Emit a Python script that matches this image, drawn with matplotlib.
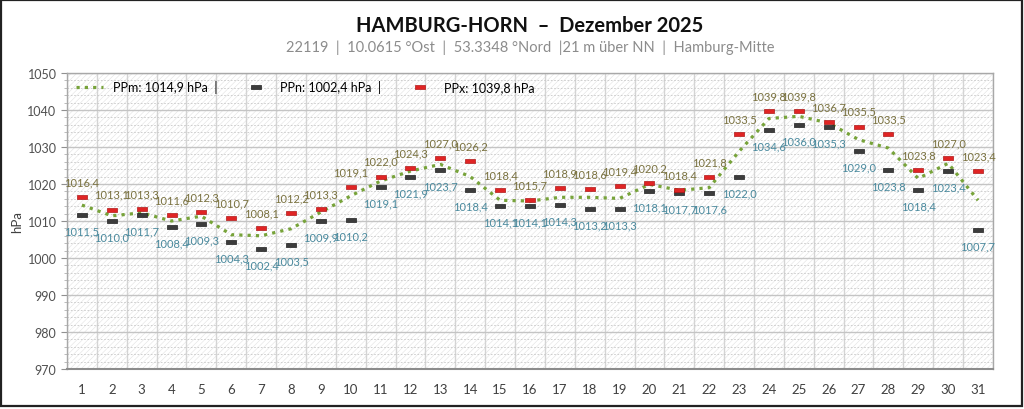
import matplotlib.pyplot as plt
from matplotlib.patches import Rectangle
from matplotlib.ticker import MultipleLocator
import numpy as np

############################## data ##
days = list(range(1, 32))
pp_max = [1016.4, 1013.1, 1013.3, 1011.6, 1012.3, 1010.7, 1008.1, 1012.2, 1013.3, 1019.1,
          1022.0, 1024.3, 1027.0, 1026.2, 1018.4, 1015.7, 1018.9, 1018.6, 1019.4, 1020.2,
          1018.4, 1021.8, 1033.5, 1039.8, 1039.8, 1036.7, 1035.5, 1033.5, 1023.8, 1027.0,
          1023.4]
pp_min = [1011.5, 1010.0, 1011.7, 1008.4, 1009.3, 1004.3, 1002.4, 1003.5, 1009.9, 1010.2,
          1019.1, 1021.9, 1023.7, 1018.4, 1014.1, 1014.1, 1014.3, 1013.2, 1013.3, 1018.1,
          1017.7, 1017.6, 1022.0, 1034.6, 1036.0, 1035.3, 1029.0, 1023.8, 1018.4, 1023.4,
          1007.7]
# daily mean
pp_mean = [1014.3, 1011.4, 1012.2, 1010.0, 1011.3, 1006.3, 1006.0, 1007.9, 1012.4, 1016.8,
           1020.8, 1023.5, 1025.3, 1022.0, 1015.6, 1015.4, 1016.4, 1016.4, 1016.1, 1019.9,
           1018.3, 1019.0, 1028.8, 1037.7, 1038.3, 1036.5, 1032.0, 1029.7, 1021.5, 1025.6,
           1015.6]

title = "HAMBURG-HORN  \u2013  Dezember 2025"
subtitle = "22119  |  10.0615 \u00b0Ost  |  53.3348 \u00b0Nord  |21 m \u00fcber NN  |  Hamburg-Mitte"
leg_labels = ["PPm: 1014,9 hPa  |", "PPn: 1002,4 hPa  |", "PPx: 1039,8 hPa"]

def fmt(v):
    return ("%.1f" % v).replace(".", ",")

############################## plot ##
plt.rcParams['font.family'] = ['Lato', 'DejaVu Sans']
plt.rcParams['hatch.linewidth'] = 0.4

fig = plt.figure(figsize=(10.24, 4.10), dpi=100)
ax = fig.add_axes([0.0654, 0.0976, 0.9043, 0.7219])

# hatched background like the spreadsheet chart
ax.add_patch(Rectangle((0, 0), 1, 1, transform=ax.transAxes, facecolor='white',
                       edgecolor='#e2e2e2', hatch='//////', lw=0, zorder=0))

ax.set_xlim(0.5, 31.5)
ax.set_ylim(970, 1050)
ax.yaxis.set_major_locator(MultipleLocator(10))
ax.yaxis.set_minor_locator(MultipleLocator(2))
ax.set_xticks(days)
ax.set_xticks(np.arange(0.5, 32, 1), minor=True)
ax.grid(which='major', axis='y', color='#c4c4c4', lw=1.0, zorder=1)
ax.grid(which='minor', axis='y', color='#c8c8c8', lw=0.6, ls=(0, (2, 2)), zorder=1)
ax.grid(which='minor', axis='x', color='#d4d4d4', lw=1.0, zorder=1)

for s in ax.spines.values():
    s.set_color('#a8a8a8')
    s.set_linewidth(1.0)
ax.spines['bottom'].set_color('#8c8c8c')
ax.spines['bottom'].set_linewidth(1.5)

ax.tick_params(axis='x', which='both', length=0, pad=10, labelsize=9.5, labelcolor='#404040')
ax.tick_params(axis='y', which='major', length=4, color='#909090', labelsize=9, labelcolor='#505050')
ax.tick_params(axis='y', which='minor', length=2, color='#b0b0b0')
ax.set_ylabel("hPa", fontsize=9.5, color='#404040')
ax.yaxis.set_label_coords(-0.047, 0.5)

# mean line
ln, = ax.plot(days, pp_mean, color='#77a33a', lw=2.3, ls=(0, (1, 1.6)), zorder=3)

box = [(-1, -0.4), (1, -0.4), (1, 0.4), (-1, 0.4), (-1, -0.4)]
mn, = ax.plot(days, pp_min, ls='none', marker=box, markersize=6.5, color='#3c3c3c',
              mec='#202020', mew=0.5, zorder=4)
mx, = ax.plot(days, pp_max, ls='none', marker=box, markersize=6.5, color='#e02424',
              mec='#b01818', mew=0.5, zorder=4)

for d, v in zip(days, pp_max):
    ax.annotate(fmt(v), (d, v), xytext=(0, 11), textcoords='offset points', ha='center',
                va='center', fontsize=8, color='#7a7240', zorder=5)
for d, v in zip(days, pp_min):
    ax.annotate(fmt(v), (d, v), xytext=(0, -11.5), textcoords='offset points', ha='center',
                va='center', fontsize=8, color='#4a8a9e', zorder=5)

ax.legend([ln, mn, mx], leg_labels, loc='upper left', ncol=3, frameon=False,
          fontsize=9, handlelength=2.2, columnspacing=2.0, borderaxespad=0.3,
          bbox_to_anchor=(0.0, 1.005))

fig.text(0.5176, 0.937, title, ha='center', va='center', fontsize=14.5, fontweight='bold',
         color='#111111')
fig.text(0.5176, 0.884, subtitle, ha='center', va='center', fontsize=10.5, color='#8c8c8c')

# outer frame
fig.patches.append(Rectangle((0.001, 0.008), 0.997, 0.99, transform=fig.transFigure,
                             fill=False, edgecolor='#222222', lw=1.6))

plt.savefig('out.png', dpi=100)
plt.close()
